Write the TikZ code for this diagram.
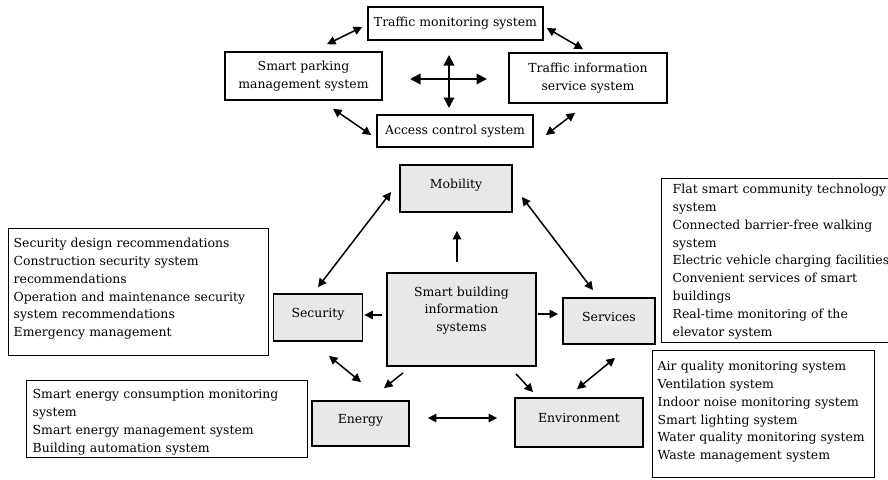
\documentclass[tikz,border=0pt]{standalone}
\usepackage{fontspec}
\setmainfont{DejaVu Serif}
\usetikzlibrary{arrows.meta}
\definecolor{boxGray}{RGB}{232,232,232}

\begin{document}
\begin{tikzpicture}[x=1pt, y=-1pt, font=\fontsize{12.45}{17.8}\selectfont]
%styles des noeuds
\tikzstyle{topBox}=[draw, line width=1.6pt, align=center, inner sep=0pt]
\tikzstyle{grayBox}=[draw, line width=1.8pt, fill=boxGray, align=center, inner sep=0pt]
\tikzstyle{listBox}=[draw, line width=1.4pt, anchor=north west, align=left, inner ysep=0pt]
\useasboundingbox (0,0) rectangle (888,479);

%mobilite
\node[topBox, minimum width=175pt, minimum height=33pt] (traffic) at (455.5,23.5) {Traffic monitoring system};
\node[topBox, minimum width=157pt, minimum height=48pt] (parking) at (303.5,76) {Smart parking\\management system};
\node[topBox, minimum width=158pt, minimum height=50pt] (info) at (588,78) {Traffic information\\service system};
\node[topBox, minimum width=156pt, minimum height=32pt] (access) at (455,131) {Access control system};

%figure
\node[grayBox, minimum width=112pt, text height=23.5pt, text depth=23.5pt] (mobility) at (456,188.5) {Mobility};
\node[grayBox, text width=149pt, text height=23pt, text depth=70pt] (sbis) at (461.5,319.5) {Smart building\\information\\systems};
\node[grayBox, minimum width=89pt, text height=23.5pt, text depth=23.5pt] (security) at (318,317.5) {Security};
\node[grayBox, minimum width=92pt, text height=23pt, text depth=23pt] (services) at (609,321) {Services};
\node[grayBox, minimum width=97pt, text height=22.5pt, text depth=22.5pt] (energy) at (360.5,423.5) {Energy};
\node[grayBox, minimum width=128pt, text height=24.5pt, text depth=24.5pt] (environment) at (579,422.5) {Environment};

%text
\node[listBox, inner xsep=5pt, text width=250pt, text height=19pt, text depth=108pt] (securityList) at (8,228)
  {Security design recommendations\\Construction security system\\recommendations\\Operation and maintenance security\\system recommendations\\Emergency management};
\node[listBox, inner xsep=6pt, text width=269pt, text height=18pt, text depth=59pt] (energyList) at (26,380)
  {Smart energy consumption monitoring\\system\\Smart energy management system\\Building automation system};
\node[listBox, inner xsep=11pt, text width=220pt, text height=15pt, text depth=149pt] (servicesList) at (661,178)
  {Flat smart community technology\\system\\Connected barrier-free walking\\system\\Electric vehicle charging facilities\\Convenient services of smart\\buildings\\Real-time monitoring of the\\elevator system};
\node[listBox, inner xsep=5pt, text width=212pt, text height=20pt, text depth=107pt] (environmentList) at (652,350)
  {Air quality monitoring system\\Ventilation system\\Indoor noise monitoring system\\Smart lighting system\\Water quality monitoring system\\Waste management system};

%vecteur
\tikzstyle{vector}=[{Triangle[length=8.5pt,width=8.5pt]}-{Triangle[length=8.5pt,width=8.5pt]}, line width=1.5pt]
\tikzstyle{vectorOut}=[-{Triangle[length=8.5pt,width=8.5pt]}, line width=1.5pt]
\tikzstyle{vectorBig}=[{Triangle[length=10.5pt,width=10.5pt]}-{Triangle[length=10.5pt,width=10.5pt]}, line width=1.9pt]

% cross
\coordinate (crossW) at (410,79);
\coordinate (crossE) at (487,79);
\coordinate (crossN) at (449,55);
\coordinate (crossS) at (449,108);
\draw[vectorBig] (crossW) -- (crossE);
\draw[vectorBig] (crossN) -- (crossS);

% top ring
\draw[vector] ([xshift=-5pt,yshift=-3.5pt]traffic.west) -- ([xshift=23.5pt,yshift=7pt]parking.north);
\draw[vector] ([xshift=3pt,yshift=-4.5pt]traffic.east) -- ([xshift=-5pt,yshift=3pt]info.north);
\draw[vector] ([xshift=29.5pt,yshift=-8pt]parking.south) -- ([xshift=-5pt,yshift=-4pt]access.west);
\draw[vector] ([xshift=12pt,yshift=-4pt]access.east) -- ([xshift=-13pt,yshift=-9pt]info.south);

% center
\draw[vectorOut] ([xshift=-4.5pt,yshift=10pt]sbis.north) -- ([xshift=1pt,yshift=-18pt]mobility.south);
\draw[vectorOut] ([xshift=-4pt,yshift=4.5pt]sbis.west) -- ([xshift=1pt,yshift=2.5pt]security.east);
\draw[vectorOut] ([xshift=1pt,yshift=5.5pt]sbis.east) -- ([xshift=-4pt,yshift=7pt]services.west);
\draw[vectorOut] ([xshift=-58.5pt,yshift=-6pt]sbis.south) -- ([xshift=23.5pt,yshift=12pt]energy.north);
\draw[vectorOut] ([xshift=54.5pt,yshift=-7pt]sbis.south) -- ([xshift=-46pt,yshift=5pt]environment.north);

% outer ring
\draw[vector] ([yshift=6pt]security.north) -- ([xshift=-8pt,yshift=-3.5pt]mobility.west);
\draw[vector] ([xshift=9pt,yshift=-8.5pt]mobility.east) -- ([xshift=-16pt,yshift=7pt]services.north);
\draw[vector] ([xshift=11pt,yshift=-14pt]security.south) -- ([xshift=0.5pt,yshift=18pt]energy.north);
\draw[vector] ([xshift=18pt,yshift=5.5pt]energy.east) -- ([xshift=-17pt,yshift=4.5pt]environment.west);
\draw[vector] ([xshift=6pt,yshift=-13pt]services.south) -- ([xshift=-2pt,yshift=8pt]environment.north);
\end{tikzpicture}
\end{document}
